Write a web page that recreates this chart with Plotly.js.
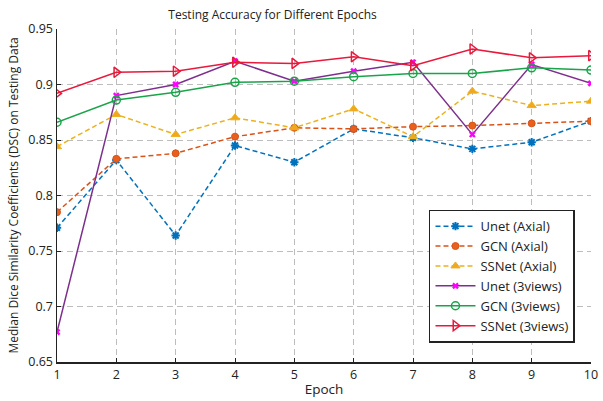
<!DOCTYPE html>
<html>
<head>
<meta charset="utf-8">
<script src="https://cdn.plot.ly/plotly-3.0.1.min.js"></script>
<style>
html,body{margin:0;padding:0;background:#fff;}
#chart{width:603px;height:401px;}
</style>
</head>
<body>
<div id="chart"></div>
<script>
const epochs = [1, 2, 3, 4, 5, 6, 7, 8, 9, 10];
const unetAxial   = [0.771, 0.832, 0.764, 0.845, 0.830, 0.860, 0.852, 0.842, 0.848, 0.867];
const gcnAxial    = [0.785, 0.833, 0.838, 0.853, 0.861, 0.860, 0.862, 0.863, 0.865, 0.867];
const ssnetAxial  = [0.844, 0.873, 0.855, 0.870, 0.861, 0.878, 0.853, 0.894, 0.881, 0.885];
const unet3views  = [0.677, 0.890, 0.900, 0.921, 0.903, 0.912, 0.920, 0.855, 0.918, 0.901];
const gcn3views   = [0.866, 0.886, 0.893, 0.902, 0.903, 0.907, 0.910, 0.910, 0.915, 0.913];
const ssnet3views = [0.892, 0.911, 0.912, 0.920, 0.919, 0.925, 0.917, 0.932, 0.924, 0.926];
const seriesNames = ["Unet (Axial)", "GCN (Axial)", "SSNet (Axial)", "Unet (3views)", "GCN (3views)", "SSNet (3views)"];
const xTickLabels = ["1","2","3","4","5","6","7","8","9","10"];
const yTickVals = [0.65, 0.7, 0.75, 0.8, 0.85, 0.9, 0.95];
const yTickLabels = ["0.65","0.7","0.75","0.8","0.85","0.9","0.95"];

const F = "Open Sans, Noto Sans, sans-serif";

const traces = [
  {x: epochs, y: unetAxial, name: seriesNames[0], mode: "lines+markers",
   line: {color: "#0072BD", width: 1.5, dash: "5px,3px"},
   marker: {symbol: "asterisk-open", size: 7, color: "#0072BD", line: {color: "#0072BD", width: 2}}},
  {x: epochs, y: gcnAxial, name: seriesNames[1], mode: "lines+markers",
   line: {color: "#D95319", width: 1.5, dash: "5px,3px"},
   marker: {symbol: "circle", size: 7, color: "#E8601C", line: {color: "#D95319", width: 1}}},
  {x: epochs, y: ssnetAxial, name: seriesNames[2], mode: "lines+markers",
   line: {color: "#EDB120", width: 1.5, dash: "5px,3px"},
   marker: {symbol: "triangle-up", size: 8, color: "#F0A81C", line: {color: "#EDB120", width: 1}}},
  {x: epochs, y: unet3views, name: seriesNames[3], mode: "lines+markers",
   line: {color: "#7E2F8E", width: 1.5},
   marker: {symbol: "x", size: 6, color: "#FF00FF", line: {color: "#FF00FF", width: 0}}},
  {x: epochs, y: gcn3views, name: seriesNames[4], mode: "lines+markers",
   line: {color: "#1AA44A", width: 1.5},
   marker: {symbol: "circle-open", size: 8, color: "#1AA44A", line: {color: "#1AA44A", width: 1.5}}},
  {x: epochs, y: ssnet3views, name: seriesNames[5], mode: "lines+markers",
   line: {color: "#E8193C", width: 1.5},
   marker: {symbol: "triangle-right-open", size: 9, color: "#E8193C", line: {color: "#E8193C", width: 1.5}}}
];

const layout = {
  width: 603, height: 401,
  margin: {l: 57, r: 12, t: 29, b: 39},
  paper_bgcolor: "#fff", plot_bgcolor: "#fff",
  font: {family: F, size: 12, color: "#222"},
  title: {text: "Testing Accuracy for Different Epochs", font: {family: F, size: 12, color: "#222"},
          x: 0.452, xanchor: "center", y: 0.962, yanchor: "middle"},
  xaxis: {
    range: [1, 10], tickvals: epochs, ticktext: xTickLabels,
    showline: true, linecolor: "#222", linewidth: 1.5, mirror: false,
    ticks: "inside", ticklen: 4, tickcolor: "#222",
    showgrid: true, gridcolor: "#bdbdbd", griddash: "6px,4px", gridwidth: 1,
    zeroline: false, tickfont: {size: 12.5, family: F, color: "#222"},
    title: {text: "Epoch", font: {size: 13.5, family: F, color: "#222"}, standoff: 3}
  },
  yaxis: {
    range: [0.65, 0.95], tickvals: yTickVals, ticktext: yTickLabels,
    showline: true, linecolor: "#222", linewidth: 1.5, mirror: false,
    ticks: "inside", ticklen: 4, tickcolor: "#222",
    showgrid: true, gridcolor: "#bdbdbd", griddash: "6px,4px", gridwidth: 1,
    zeroline: false, tickfont: {size: 12.5, family: F, color: "#222"},
    title: {text: "Median Dice Similarity Coefficients (DSC) on Testing Data", font: {size: 12, family: F, color: "#222"}, standoff: 7}
  },
  legend: {
    x: 0.97, xanchor: "right", y: 0.058, yanchor: "bottom",
    bgcolor: "#fff", bordercolor: "#222", borderwidth: 1.5,
    font: {size: 13, family: F, color: "#222"},
    tracegroupgap: 0, itemwidth: 40
  },
  showlegend: true
};

Plotly.newPlot("chart", traces, layout, {displayModeBar: false, staticPlot: true});
</script>
</body>
</html>
